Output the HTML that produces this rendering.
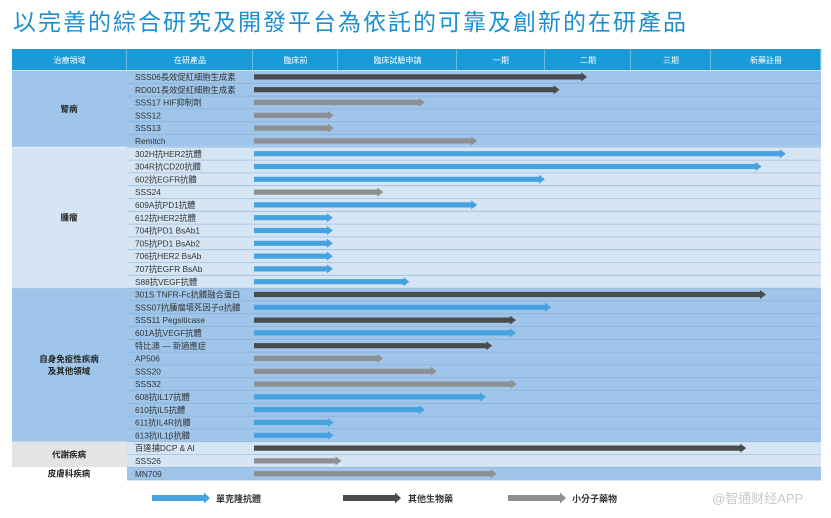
<!DOCTYPE html>
<html><head><meta charset="utf-8">
<style>
body{margin:0;background:#fff;width:831px;height:518px;overflow:hidden;font-family:"Liberation Sans","Noto Sans CJK TC",sans-serif;}
#title{position:absolute;left:13px;top:3px;font-size:23px;color:#1b8fd2;font-family:"Liberation Sans","Noto Sans CJK TC",sans-serif;letter-spacing:2px}
svg{position:absolute;left:0;top:0}
</style></head><body>
<div id="title">以完善的綜合研究及開發平台為依託的可靠及創新的在研產品</div>
<svg id="chart" width="831" height="518"></svg>
<script>
const stages=["臨床前","臨床試驗申請","一期","二期","三期","新藥註冊"];
const areas=["腎病","腫瘤","自身免疫性疾病|及其他領域","代謝疾病","皮膚科疾病"];
const areaCounts=[6,11,12,2,1];
const products=["SSS06長效促紅細胞生成素","RD001長效促紅細胞生成素","SSS17 HIF抑制劑","SSS12","SSS13","Remitch",
"302H抗HER2抗體","304R抗CD20抗體","602抗EGFR抗體","SSS24","609A抗PD1抗體","612抗HER2抗體","704抗PD1 BsAb1","705抗PD1 BsAb2","706抗HER2 BsAb","707抗EGFR BsAb","S88抗VEGF抗體",
"301S TNFR-Fc抗體融合蛋白","SSS07抗腫瘤壞死因子α抗體","SSS11  Pegsiticase","601A抗VEGF抗體","特比澳 — 新適應症","AP506","SSS20","SSS32","608抗IL17抗體","610抗IL5抗體","611抗IL4R抗體","613抗IL1β抗體",
"百達捕DCP & AI","SSS26","MN709"];
const progress=[3.49,3.17,1.73,0.95,0.95,2.23,
5.68,5.46,3.0,1.38,2.23,0.94,0.94,0.94,0.94,0.94,1.6,
5.5,3.07,2.67,2.67,2.40,1.38,1.83,2.68,2.33,1.73,0.95,0.95,
5.32,1.03,2.45];
const types=["o","o","s","s","s","s",
"m","m","m","s","m","m","m","m","m","m","m",
"o","m","o","m","o","s","s","s","m","m","m","m",
"o","s","s"];
const legendLabels={m:"單克隆抗體",o:"其他生物藥",s:"小分子藥物"};
const colors={m:"#47a3df",o:"#4a4b4d",s:"#8e8f91"};
const NS="http://www.w3.org/2000/svg";
const svg=document.getElementById('chart');
function el(t,a,p){const e=document.createElementNS(NS,t);for(const k in a)e.setAttribute(k,a[k]);(p||svg).appendChild(e);return e;}
const bounds=[253,338,457,545,631,711,821];
function xOf(v){const i=Math.min(Math.floor(v),5);return bounds[i]+(v-i)*(bounds[i+1]-bounds[i]);}
const top0=70.5,rh=12.8;
function yOf(i){return top0+i*rh;}
const hdr=[["治療領域",12,127],["在研產品",127,253]];
stages.forEach((s,i)=>hdr.push([s,bounds[i],bounds[i+1]]));
hdr.forEach(h=>{
 const r=el('rect',{x:h[1],y:49,width:h[2]-h[1],height:21,fill:'#1a9ad9'});
 
 
 el('line',{x1:h[2],y1:49,x2:h[2],y2:70,stroke:'#bfe0f4','stroke-width':1});
 const t=el('text',{x:(h[1]+h[2])/2,y:63,'text-anchor':'middle','font-size':8,fill:'#fff'});t.textContent=h[0];
 
 
});
const rowFill=["#9fc6ea","#d5e5f4","#9fc6ea","#d5e5f4","#9fc6ea"];
const areaFill=["#9fc6ea","#d5e5f4","#9fc6ea","#e4e4e4","#ffffff"];
let idx=0;
areas.forEach((a,ai)=>{
 const n=areaCounts[ai];const y0=yOf(idx),y1=yOf(idx+n);
 const ar=el('rect',{x:12,y:y0,width:115,height:y1-y0,fill:areaFill[ai]});
 
 
 el('rect',{x:127,y:y0,width:694,height:y1-y0,fill:rowFill[ai]});
 const lines=a.split('|');
 lines.forEach((l,li)=>{const t=el('text',{x:69,y:(y0+y1)/2+3+(li-(lines.length-1)/2)*12,'text-anchor':'middle','font-size':8.5,fill:'#222','font-weight':'bold'});t.textContent=l;
  
  });
 idx+=n;
});
el('line',{x1:12,y1:yOf(6),x2:821,y2:yOf(6),stroke:'#e8f1fa','stroke-width':1});
products.forEach((p,i)=>{
 const y=yOf(i);
 if(i>0)el('line',{x1:127,y1:y,x2:821,y2:y,stroke:'#7fa7cc','stroke-width':0.8,opacity:0.6});
 const t=el('text',{x:135,y:y+9.5,'font-size':8.3,fill:'#333'});t.textContent=p;
 
 
 const cy=y+rh/2,x0=254,x1=xOf(progress[i]);
 const g=el('path',{d:`M${x0},${cy-2.6}H${x1-6}V${cy-4.5}L${x1},${cy}L${x1-6},${cy+4.5}V${cy+2.6}H${x0}Z`,fill:colors[types[i]]});
 
 
});
el('line',{x1:127,y1:yOf(32),x2:821,y2:yOf(32),stroke:'#7fa7cc','stroke-width':0.8,opacity:0.6});
const legX=[[152,216,'m'],[343,408,'o'],[508,572,'s']];
legX.forEach(l=>{
 const cy=498,x0=l[0],x1=l[0]+58;
 const a=el('path',{d:`M${x0},${cy-3}H${x1-6}V${cy-5.5}L${x1},${cy}L${x1-6},${cy+5.5}V${cy+3}H${x0}Z`,fill:colors[l[2]]});
 
 
 const t=el('text',{x:l[1],y:502,'font-size':9,fill:'#333','font-weight':'bold'});t.textContent=legendLabels[l[2]];
 
 
});
const w=el('text',{x:712,y:503,'font-size':13,fill:'#c8c8c8'});w.textContent="@智通财经APP";


</script>
</body></html>
